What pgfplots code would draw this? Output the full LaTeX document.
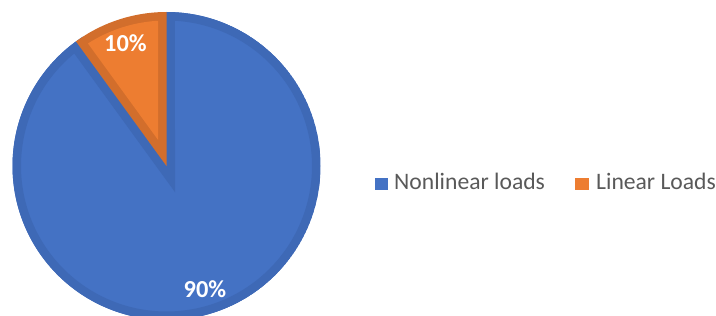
\documentclass[border=0pt]{standalone}
\usepackage{pgfplots}
\pgfplotsset{compat=1.18}
\usepackage{pgfplotstable}
\usepgfplotslibrary{polar}
\usepackage{fontspec}
\setmainfont{Carlito}
\definecolor{pieblue}{HTML}{4472C4}
\definecolor{pieblueborder}{HTML}{3E69B6}
\definecolor{pieorange}{HTML}{ED7D31}
\definecolor{pieorangeborder}{HTML}{D26E2C}
\definecolor{legendtext}{HTML}{595959}
\pgfplotstableread{
name value
Nonlinear 90
Linear 10
}\piedata
\begin{document}
\begin{tikzpicture}
\pgfplotstablegetelem{0}{value}\of\piedata\let\vA\pgfplotsretval
\pgfplotstablegetelem{1}{value}\of\piedata\let\vB\pgfplotsretval
% geometry: R = 154bp, border w = 8.5bp
\pgfmathsetmacro\wr{8.5/154}
\pgfmathsetmacro\angB{90+3.6*\vB}
\pgfmathsetmacro\angEnd{\angB+3.6*\vA}
\pgfmathsetmacro\bis{90+1.8*\vB}
\pgfmathsetmacro\rin{1-\wr}
\pgfmathsetmacro\dl{asin(\wr/\rin)}
\pgfmathsetmacro\angAi{90+\dl}
\pgfmathsetmacro\angBi{\angB-\dl}
\pgfmathsetmacro\apex{\wr/sin(1.8*\vB)}
\path[use as bounding box] (0,0) rectangle (716bp,316bp);
\clip (0,0) rectangle (716bp,316bp);
\begin{polaraxis}[
  at={(166.5bp,150bp)}, anchor=origin,
  scale only axis, width=308bp, height=308bp,
  xmin=0, xmax=360, ymin=0, ymax=1,
  hide axis, clip=true,
]
\addplot[fill=pieblue, draw=pieblueborder, line width=17bp, line join=miter,
  domain=\angB:\angEnd, samples=300] {1} -- (axis cs:0,0) -- cycle;
\addplot[fill=pieorangeborder, draw=none, domain=90:\angB, samples=60] {1} -- (axis cs:0,0) -- cycle;
\addplot[fill=pieorange, draw=none, domain=\angAi:\angBi, samples=60] {\rin} -- (axis cs:\bis,\apex) -- cycle;
\end{polaraxis}
\node[text=white, font=\fontsize{24.5}{29}\selectfont\bfseries, inner sep=0] at (125.5bp,272.5bp) {10\%};
\node[text=white, font=\fontsize{24.5}{29}\selectfont\bfseries, inner sep=0] at (205bp,27bp) {90\%};
\fill[pieblue] (375bp,126bp) rectangle (388bp,138bp);
\node[anchor=base west, inner sep=0, text=legendtext, font=\fontsize{23.7}{28}\selectfont] at (394bp,126bp) {Nonlinear loads};
\fill[pieorange] (575bp,126bp) rectangle (589bp,138bp);
\node[anchor=base west, inner sep=0, text=legendtext, font=\fontsize{23.7}{28}\selectfont] at (596bp,126bp) {Linear Loads};
\end{tikzpicture}
\end{document}
